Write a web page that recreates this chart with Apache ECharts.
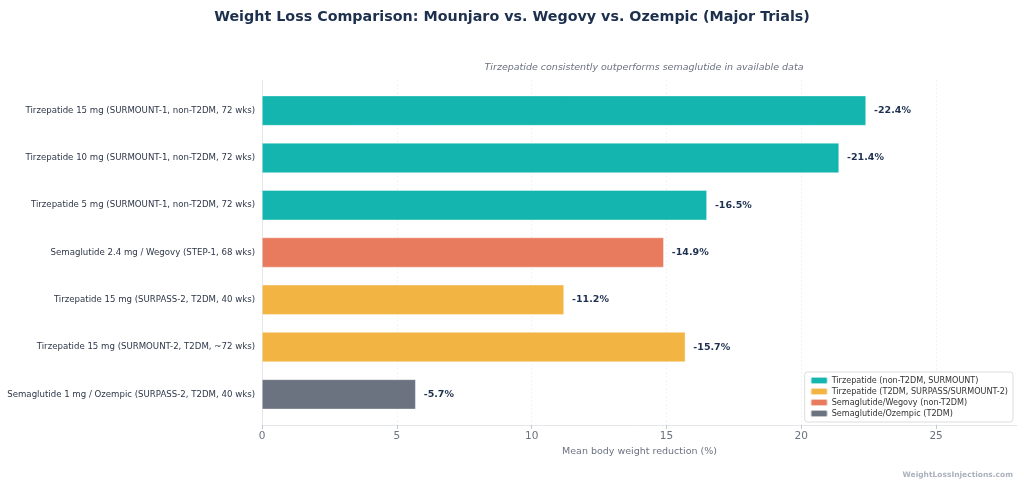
<!DOCTYPE html>
<html>
<head>
<meta charset="utf-8">
<script src="https://cdn.jsdelivr.net/npm/echarts@6/dist/echarts.min.js"></script>
<style>
	html, body { margin: 0; padding: 0; background: #fff; }
	#chart { width: 1024px; height: 483px; }
</style>
</head>
<body>
<div id="chart"></div>
<script>
// 分类（从上到下）
let categories = [
	'Tirzepatide 15 mg (SURMOUNT-1, non-T2DM, 72 wks)',
	'Tirzepatide 10 mg (SURMOUNT-1, non-T2DM, 72 wks)',
	'Tirzepatide 5 mg (SURMOUNT-1, non-T2DM, 72 wks)',
	'Semaglutide 2.4 mg / Wegovy (STEP-1, 68 wks)',
	'Tirzepatide 15 mg (SURPASS-2, T2DM, 40 wks)',
	'Tirzepatide 15 mg (SURMOUNT-2, T2DM, ~72 wks)',
	'Semaglutide 1 mg / Ozempic (SURPASS-2, T2DM, 40 wks)',
];
let values = [22.4, 21.4, 16.5, 14.9, 11.2, 15.7, 5.7];
// 每个条属于哪个组
let groupOf = [0, 0, 0, 2, 1, 1, 3];
let groupNames = [
	'Tirzepatide (non-T2DM, SURMOUNT)',
	'Tirzepatide (T2DM, SURPASS/SURMOUNT-2)',
	'Semaglutide/Wegovy (non-T2DM)',
	'Semaglutide/Ozempic (T2DM)',
];
let groupColors = ['#14b5ae', '#f2b443', '#e87b5d', '#6b7280'];
let xTicks = [0, 5, 10, 15, 20, 25];

let font = 'DejaVu Sans';
let chart = echarts.init(document.getElementById('chart'));

let series = groupNames.map((name, g) => ({
	name: name,
	type: 'bar',
	stack: 'all',
	xAxisIndex: 0,
	yAxisIndex: 0,
	barWidth: 30,
	itemStyle: { color: groupColors[g], borderColor: 'rgba(255,255,255,0.6)', borderWidth: 0.6 },
	label: {
		show: true,
		position: 'right',
		distance: 8,
		fontFamily: font,
		fontSize: 9.5,
		fontWeight: 'bold',
		color: '#1e3050',
		formatter: (p) => `-${p.value.toFixed(1)}%`,
	},
	data: values.map((v, i) => (groupOf[i] === g ? v : null)),
}));

// 只用来画坐标轴的空系列
series.push({
	type: 'scatter',
	xAxisIndex: 1,
	yAxisIndex: 1,
	data: [],
	silent: true,
});

let option = {
	backgroundColor: '#fff',
	animation: false,
	title: [
		{
			text: 'Weight Loss Comparison: Mounjaro vs. Wegovy vs. Ozempic (Major Trials)',
			left: 'center',
			top: 5,
			textStyle: { fontFamily: font, fontSize: 14.3, fontWeight: 'bold', color: '#1c2f4d' },
		},
		{
			text: 'Tirzepatide consistently outperforms semaglutide in available data',
			left: 639,
			textAlign: 'center',
			top: 58,
			textStyle: { fontFamily: font, fontSize: 9.5, fontStyle: 'italic', fontWeight: 'normal', color: '#6b7280' },
		},
		{
			text: 'WeightLossInjections.com',
			right: 6,
			top: 466,
			textStyle: { fontFamily: font, fontSize: 7.5, fontWeight: 'bold', color: '#aab0bd' },
		},
	],
	legend: {
		data: groupNames,
		orient: 'vertical',
		right: 11,
		bottom: 61,
		itemWidth: 17,
		itemHeight: 7,
		itemGap: 2,
		padding: [4, 5],
		borderColor: '#dddddd',
		borderWidth: 1,
		borderRadius: 3,
		backgroundColor: '#fff',
		textStyle: { fontFamily: font, fontSize: 8.1, color: '#333', padding: [0, 0, 0, -1] },
	},
	grid: [
		{ left: 262, right: 7, top: 87, bottom: 65 },
		{ left: 262, right: 7, top: 80, bottom: 58 },
	],
	xAxis: [
		{
			gridIndex: 0,
			type: 'value',
			min: 0,
			max: 28,
			show: false,
		},
		{
			gridIndex: 1,
			type: 'value',
			min: 0,
			max: 28,
			name: 'Mean body weight reduction (%)',
			nameLocation: 'middle',
			nameGap: 20,
			nameTextStyle: { fontFamily: font, fontSize: 9.5, color: '#6b7280' },
			axisLine: { show: true, lineStyle: { color: '#e5e7eb', width: 1 } },
			axisTick: { show: true, length: 4, customValues: xTicks, lineStyle: { color: '#c5c9d0' } },
			axisLabel: {
				fontFamily: font,
				fontSize: 10.5,
				color: '#6b7280',
				margin: 6,
				customValues: xTicks,
			},
			splitLine: { show: true, lineStyle: { color: '#eef0f3', type: [2, 2], width: 0.8 } },
		},
	],
	yAxis: [
		{
			gridIndex: 0,
			type: 'category',
			inverse: true,
			data: categories,
			axisLine: { show: false },
			axisTick: { show: false },
			axisLabel: { fontFamily: font, fontSize: 8.6, color: '#2d3748', margin: 7 },
		},
		{
			gridIndex: 1,
			type: 'value',
			min: 0,
			max: 1,
			axisLine: { show: true, lineStyle: { color: '#e5e7eb', width: 1 } },
			axisTick: { show: false },
			axisLabel: { show: false },
			splitLine: { show: false },
		},
	],
	series: series,
};

chart.setOption(option);
</script>
</body>
</html>
